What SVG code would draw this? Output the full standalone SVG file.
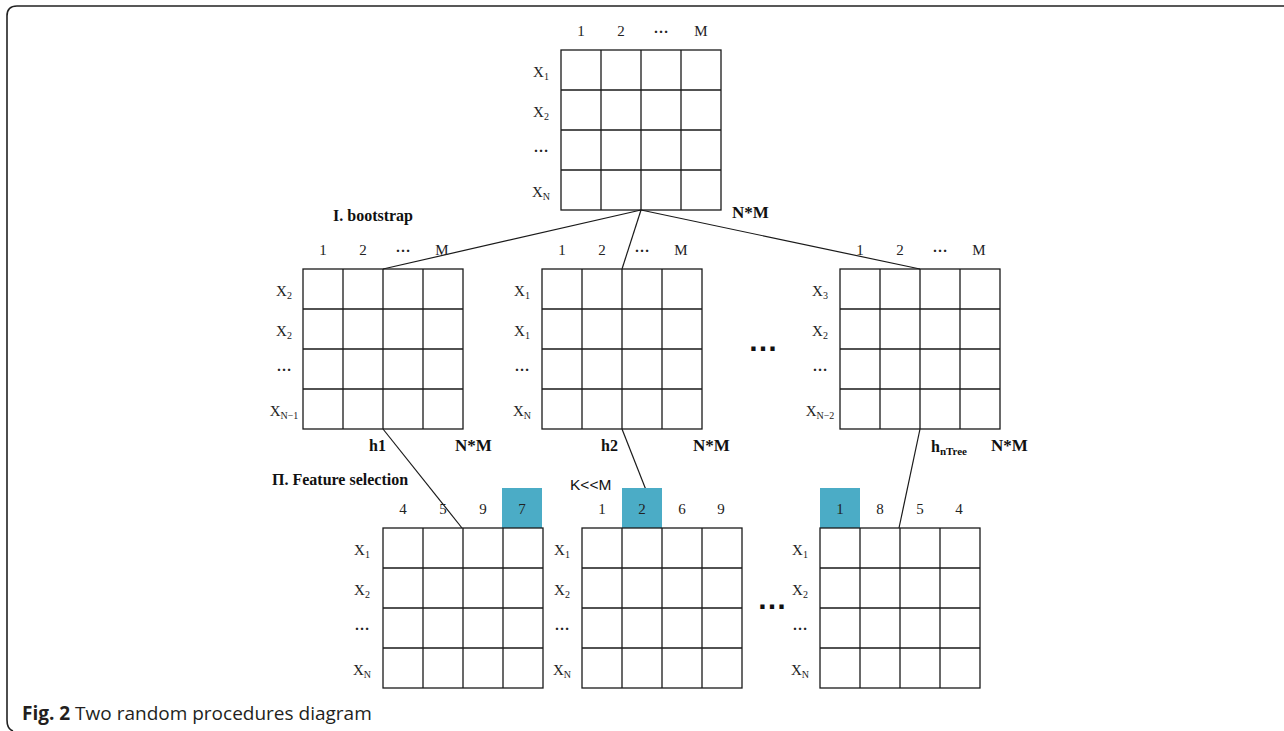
<svg xmlns="http://www.w3.org/2000/svg" xmlns:xlink="http://www.w3.org/1999/xlink" width="1284" height="731" viewBox="0 0 1284 731">
  <style>
    .lbl { font-family: "Liberation Serif", serif; font-size: 15px; fill: #222; text-anchor: middle; }
    .el { font-weight: bold; }
    .sub { font-size: 10px; }
    .bold { font-family: "Liberation Serif", serif; font-weight: bold; fill: #111; }
    .dots { font-family: "Liberation Sans", sans-serif; font-weight: bold; font-size: 30px; fill: #111; text-anchor: middle; }
    .conn { stroke: #1a1a1a; stroke-width: 1.2; fill: none; }
    .hl { fill: #4bacc6; }
    .cap { font-family: "Open Sans", "Liberation Sans", sans-serif; font-size: 19px; fill: #231f20; }
  </style>
  <defs>
    <!-- 4x4 matrix grid, 40px cells -->
    <g id="grid" fill="none" stroke="#1a1a1a" stroke-width="1.3">
      <rect x="0" y="0" width="160" height="160"/>
      <path d="M40 0V160M80 0V160M120 0V160M0 40H160M0 80H160M0 120H160"/>
    </g>
  </defs>

  <rect width="1284" height="731" fill="#fff"/>

  <!-- outer frame -->
  <path d="M1284 6H17Q7 6 7 16V720Q7 729 13 731" fill="none" stroke="#222" stroke-width="1.6"/>

  <!-- connectors -->
  <g id="connectors" class="conn">
    <path d="M641 210L383 269"/>
    <path d="M641 210L622 269"/>
    <path d="M641 210L920 269"/>
    <path d="M383 429L462 528"/>
    <path d="M622 429L661 528"/>
    <path d="M920 429L899 528"/>
  </g>

  <!-- original data set -->
  <g id="matrix-full">
    <use xlink:href="#grid" x="561" y="50"/>
    <text class="lbl" x="581" y="36">1</text>
    <text class="lbl" x="621" y="36">2</text>
    <text class="lbl el" x="661" y="33">…</text>
    <text class="lbl" x="701" y="36">M</text>
    <text class="lbl" x="541" y="77">X<tspan class="sub" dy="3">1</tspan></text>
    <text class="lbl" x="541" y="117">X<tspan class="sub" dy="3">2</tspan></text>
    <text class="lbl el" x="541" y="152">…</text>
    <text class="lbl" x="541" y="197">X<tspan class="sub" dy="3">N</tspan></text>
    <text class="bold" x="732" y="218" font-size="17">N*M</text>
  </g>

  <text id="label-bootstrap" class="bold" x="333" y="221" font-size="16">I. bootstrap</text>

  <!-- bootstrap sample 1 -->
  <g id="matrix-h1">
    <use xlink:href="#grid" x="303" y="269"/>
    <text class="lbl" x="323" y="255">1</text>
    <text class="lbl" x="363" y="255">2</text>
    <text class="lbl el" x="403" y="252">…</text>
    <text class="lbl" x="442" y="255">M</text>
    <text class="lbl" x="284" y="296">X<tspan class="sub" dy="3">2</tspan></text>
    <text class="lbl" x="284" y="336">X<tspan class="sub" dy="3">2</tspan></text>
    <text class="lbl el" x="284" y="371">…</text>
    <text class="lbl" x="284" y="416">X<tspan class="sub" dy="3">N−1</tspan></text>
    <text class="bold" x="369" y="451" font-size="16">h1</text>
    <text class="bold" x="455" y="451" font-size="17">N*M</text>
  </g>

  <!-- bootstrap sample 2 -->
  <g id="matrix-h2">
    <use xlink:href="#grid" x="542" y="269"/>
    <text class="lbl" x="562" y="255">1</text>
    <text class="lbl" x="602" y="255">2</text>
    <text class="lbl el" x="642" y="252">…</text>
    <text class="lbl" x="681" y="255">M</text>
    <text class="lbl" x="522" y="296">X<tspan class="sub" dy="3">1</tspan></text>
    <text class="lbl" x="522" y="336">X<tspan class="sub" dy="3">1</tspan></text>
    <text class="lbl el" x="522" y="371">…</text>
    <text class="lbl" x="522" y="416">X<tspan class="sub" dy="3">N</tspan></text>
    <text class="bold" x="601" y="451" font-size="16">h2</text>
    <text class="bold" x="693" y="451" font-size="17">N*M</text>
  </g>

  <text id="ellipsis-mid" class="dots" x="763" y="351">…</text>

  <!-- bootstrap sample nTree -->
  <g id="matrix-hn">
    <use xlink:href="#grid" x="840" y="269"/>
    <text class="lbl" x="860" y="255">1</text>
    <text class="lbl" x="900" y="255">2</text>
    <text class="lbl el" x="940" y="252">…</text>
    <text class="lbl" x="979" y="255">M</text>
    <text class="lbl" x="820" y="296">X<tspan class="sub" dy="3">3</tspan></text>
    <text class="lbl" x="820" y="336">X<tspan class="sub" dy="3">2</tspan></text>
    <text class="lbl el" x="820" y="371">…</text>
    <text class="lbl" x="820" y="416">X<tspan class="sub" dy="3">N−2</tspan></text>
    <text class="bold" x="931" y="452" font-size="16">h<tspan font-size="11" dy="3">nTree</tspan></text>
    <text class="bold" x="991" y="451" font-size="17">N*M</text>
  </g>

  <text id="label-feature" class="bold" x="272" y="485" font-size="16">Π. Feature selection</text>
  <text id="label-k" x="570" y="490" font-family="Liberation Sans, sans-serif" font-size="15.5" fill="#111">K&lt;&lt;M</text>

  <!-- feature subset 1 -->
  <g id="matrix-f1">
    <rect class="hl" x="502" y="488" width="40" height="40"/>
    <use xlink:href="#grid" x="383" y="528"/>
    <text class="lbl" x="403" y="514">4</text>
    <text class="lbl" x="443" y="514">5</text>
    <text class="lbl" x="483" y="514">9</text>
    <text class="lbl" x="522" y="514">7</text>
    <text class="lbl" x="362" y="555">X<tspan class="sub" dy="3">1</tspan></text>
    <text class="lbl" x="362" y="595">X<tspan class="sub" dy="3">2</tspan></text>
    <text class="lbl el" x="362" y="630">…</text>
    <text class="lbl" x="362" y="675">X<tspan class="sub" dy="3">N</tspan></text>
  </g>

  <!-- feature subset 2 -->
  <g id="matrix-f2">
    <rect class="hl" x="622" y="488" width="40" height="40"/>
    <use xlink:href="#grid" x="582" y="528"/>
    <text class="lbl" x="602" y="514">1</text>
    <text class="lbl" x="642" y="514">2</text>
    <text class="lbl" x="682" y="514">6</text>
    <text class="lbl" x="721" y="514">9</text>
    <text class="lbl" x="562" y="555">X<tspan class="sub" dy="3">1</tspan></text>
    <text class="lbl" x="562" y="595">X<tspan class="sub" dy="3">2</tspan></text>
    <text class="lbl el" x="562" y="630">…</text>
    <text class="lbl" x="562" y="675">X<tspan class="sub" dy="3">N</tspan></text>
  </g>

  <text id="ellipsis-bottom" class="dots" x="772" y="609">…</text>

  <!-- feature subset nTree -->
  <g id="matrix-fn">
    <rect class="hl" x="820" y="488" width="40" height="40"/>
    <use xlink:href="#grid" x="820" y="528"/>
    <text class="lbl" x="840" y="514">1</text>
    <text class="lbl" x="880" y="514">8</text>
    <text class="lbl" x="920" y="514">5</text>
    <text class="lbl" x="959" y="514">4</text>
    <text class="lbl" x="800" y="555">X<tspan class="sub" dy="3">1</tspan></text>
    <text class="lbl" x="800" y="595">X<tspan class="sub" dy="3">2</tspan></text>
    <text class="lbl el" x="800" y="630">…</text>
    <text class="lbl" x="800" y="675">X<tspan class="sub" dy="3">N</tspan></text>
  </g>

  <text id="caption" class="cap" x="22" y="720"><tspan font-weight="bold">Fig. 2</tspan> Two random procedures diagram</text>
</svg>
